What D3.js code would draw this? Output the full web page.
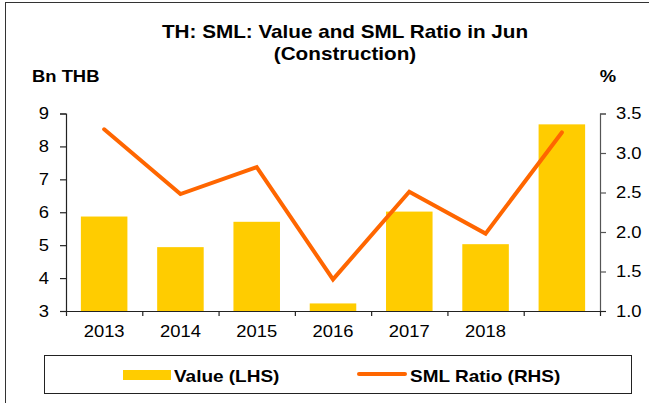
<!DOCTYPE html>
<html lang="en">
<head>
<meta charset="utf-8">
<title>TH: SML: Value and SML Ratio in Jun (Construction)</title>
<style>
  body { margin: 0; background: #fff; }
  svg { display: block; font-family: "Liberation Sans", Arial, sans-serif; }
</style>
</head>
<body>
<script src="https://cdn.jsdelivr.net/npm/d3@7/dist/d3.min.js"></script>
<script>
// data
var years = ["2013", "2014", "2015", "2016", "2017", "2018", ""];
var values = [5.87, 4.94, 5.71, 3.23, 6.02, 5.03, 8.67];
var ratios = [3.30, 2.48, 2.82, 1.40, 2.51, 1.98, 3.26];
var leftTicks = [3, 4, 5, 6, 7, 8, 9];
var rightTicks = [1.0, 1.5, 2.0, 2.5, 3.0, 3.5];

var width = 649, height = 403;
var plot = {left: 66, right: 600, top: 113.5, bottom: 311};
var stretchX = 1.15; // the source picture's text is a bit wider than Arial

var svg = d3.select("body").append("svg")
    .attr("width", width)
    .attr("height", height);

// widen text horizontally around its own x,y
function stretch(sel) {
    sel.each(function(){
        var t = d3.select(this);
        var tx = +t.attr("x") || 0, ty = +t.attr("y") || 0;
        t.attr("x", 0).attr("y", 0)
         .attr("transform", "translate(" + tx + "," + ty + ") scale(" + stretchX + ",1)");
    });
}

// outer frame (only left and top show in the picture)
svg.append("rect")
    .attr("x", 5.5).attr("y", 2.5)
    .attr("width", 700).attr("height", 500)
    .attr("fill", "none")
    .attr("stroke", "#333")
    .attr("stroke-width", 1);

var x = d3.scaleBand()
    .domain(d3.range(years.length))
    .range([plot.left, plot.right]);

var yL = d3.scaleLinear().domain([3, 9]).range([plot.bottom, plot.top]);
var yR = d3.scaleLinear().domain([1, 3.5]).range([plot.bottom, plot.top]);

var barW = x.bandwidth() * 0.61;

// bars
svg.append("g").selectAll("rect")
    .data(values)
    .enter().append("rect")
    .attr("x", function(d, i){ return x(i) + (x.bandwidth() - barW) / 2; })
    .attr("y", function(d){ return yL(d); })
    .attr("width", barW)
    .attr("height", function(d){ return yL(3) - yL(d); })
    .attr("fill", "#FFCC00");

// line
var line = d3.line()
    .x(function(d, i){ return x(i) + x.bandwidth() / 2; })
    .y(function(d){ return yR(d); });

svg.append("path")
    .datum(ratios)
    .attr("d", line)
    .attr("fill", "none")
    .attr("stroke", "#FF6600")
    .attr("stroke-width", 4)
    .attr("stroke-linejoin", "miter")
    .attr("stroke-linecap", "round");

// left axis
var gL = svg.append("g")
    .attr("transform", "translate(" + plot.left + ",0)")
    .call(d3.axisLeft(yL).tickValues(leftTicks).tickSize(6).tickPadding(11).tickFormat(d3.format("d")));

// right axis
var gR = svg.append("g")
    .attr("transform", "translate(" + plot.right + ",0)")
    .call(d3.axisRight(yR).tickValues(rightTicks).tickSize(6).tickPadding(10).tickFormat(d3.format(".1f")));

// x axis: ticks at band edges
var edges = d3.range(years.length + 1).map(function(i){ return plot.left + i * x.bandwidth(); });
var xLin = d3.scaleLinear().domain([plot.left, plot.right]).range([plot.left, plot.right]);
var gX = svg.append("g")
    .attr("transform", "translate(0," + plot.bottom + ")")
    .call(d3.axisBottom(xLin).tickValues(edges).tickSize(5).tickFormat(""));
gX.select(".domain").attr("d", "M" + (plot.left - 6) + ",0.5H" + (plot.right + 6));

svg.append("g").selectAll("text")
    .data(years)
    .enter().append("text")
    .attr("class", "xlab")
    .attr("x", function(d, i){ return x(i) + x.bandwidth() / 2; })
    .attr("y", 337)
    .attr("text-anchor", "middle")
    .attr("font-size", 16)
    .attr("fill", "#000")
    .text(function(d){ return d; });

[gL, gR, gX].forEach(function(g){
    g.select(".domain").attr("stroke", "#222").attr("stroke-width", 1.2);
    g.selectAll(".tick line").attr("stroke", "#222").attr("stroke-width", 1.2);
    g.selectAll(".tick text")
        .attr("font-size", 16)
        .attr("font-family", "'Liberation Sans', Arial, sans-serif")
        .attr("fill", "#000");
});
gR.select(".domain").attr("stroke", "#555");
gR.selectAll(".tick line").attr("stroke", "#555");

// titles
svg.append("text")
    .attr("x", 345).attr("y", 38)
    .attr("text-anchor", "middle")
    .attr("font-size", 18).attr("font-weight", "bold")
    .text("TH: SML: Value and SML Ratio in Jun");
svg.append("text")
    .attr("x", 345).attr("y", 60)
    .attr("text-anchor", "middle")
    .attr("font-size", 18).attr("font-weight", "bold")
    .text("(Construction)");

svg.append("text")
    .attr("x", 32).attr("y", 82)
    .attr("font-size", 16).attr("font-weight", "bold")
    .text("Bn THB");
svg.append("text")
    .attr("x", 608).attr("y", 82)
    .attr("text-anchor", "middle")
    .attr("font-size", 16).attr("font-weight", "bold")
    .text("%");

// legend
var legend = svg.append("g");
legend.append("rect")
    .attr("x", 44.5).attr("y", 355.5)
    .attr("width", 587).attr("height", 38)
    .attr("fill", "#fff")
    .attr("stroke", "#222")
    .attr("stroke-width", 1);
legend.append("rect")
    .attr("x", 123).attr("y", 370)
    .attr("width", 48).attr("height", 10)
    .attr("fill", "#FFCC00");
legend.append("text")
    .attr("x", 174).attr("y", 382)
    .attr("font-size", 16.5).attr("font-weight", "bold")
    .text("Value (LHS)");
legend.append("line")
    .attr("x1", 359).attr("x2", 405)
    .attr("y1", 374).attr("y2", 374)
    .attr("stroke", "#FF6600")
    .attr("stroke-width", 4)
    .attr("stroke-linecap", "round");
legend.append("text")
    .attr("x", 410).attr("y", 382)
    .attr("font-size", 16.5).attr("font-weight", "bold")
    .text("SML Ratio (RHS)");

// apply the horizontal widening to every label
stretch(svg.selectAll("text"));
</script>
</body>
</html>
